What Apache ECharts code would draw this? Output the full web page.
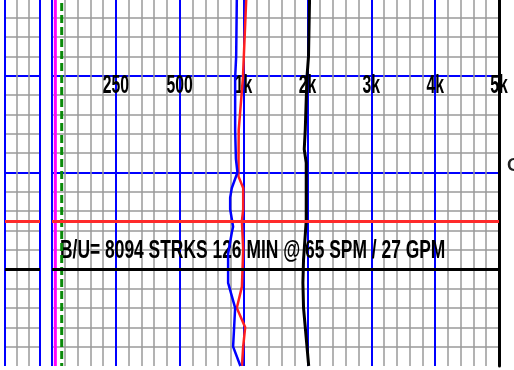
<!DOCTYPE html>
<html>
<head>
<meta charset="utf-8">
<title>Mud log track</title>
<script src="https://cdn.jsdelivr.net/npm/echarts@6.0.0/dist/echarts.min.js"></script>
<style>
  html, body { margin: 0; padding: 0; background: #fff; }
  #chart { width: 514px; height: 370px; }
</style>
</head>
<body>
<div id="chart"></div>
<script>
// scale breakpoints of the main track (0 .. 5k, not linear)
const ticks = [0, 250, 500, 1000, 2000, 3000, 4000, 5000];
const tickLabels = ['', '250', '500', '1k', '2k', '3k', '4k', '5k'];
// depth of the grid line the tick labels hang under
const labelDepth = 50;

// blue curve
const blueDepth = [0, 11, 40, 51, 78, 93, 100, 108, 113, 119, 128, 131, 142, 157, 170, 190, 200];
const blueVal   = [950, 947, 942, 934, 934, 940, 952, 908, 895, 895, 918, 908, 879, 879, 934, 918, 975];
// red curve
const redDepth = [0, 11, 51, 78, 102, 108, 119, 125, 140, 159, 170, 180, 190, 200];
const redVal   = [1057, 1041, 995, 962, 960, 997, 997, 987, 997, 987, 947, 1025, 997, 987];
// black curve
const blackDepth = [0, 11, 40, 51, 78, 88, 95, 125, 145, 157, 170, 200];
const blackVal   = [2040, 2033, 2017, 1992, 1966, 1950, 1981, 1981, 1939, 1929, 1939, 2020];
// magenta and green (dashed) curves near the left edge
const pinkDepth = [0, 100, 200];
const pinkVal   = [13, 13, 13];
const greenDepth = [0, 100, 200];
const greenVal   = [38, 38, 38];

// horizontal markers (depth)
const redMarkDepth = 125;
const blackMarkDepth = 150;

const noteText = 'B/U= 8094 STRKS 126 MIN @ 65 SPM / 27 GPM';

const font = '"Liberation Sans", Arial, sans-serif';

// value -> axis position (piecewise between the breakpoints)
function toAxis(v) {
  for (let i = 0; i < ticks.length - 1; i++) {
    if (v <= ticks[i + 1]) {
      return i + (v - ticks[i]) / (ticks[i + 1] - ticks[i]);
    }
  }
  return ticks.length - 1;
}
function pairs(depths, vals) {
  return depths.map((d, i) => [toAxis(vals[i]), d]);
}

const chart = echarts.init(document.getElementById('chart'));

const grayLine = { color: '#9a9a9a', width: 1.5 };
const blueLine = { color: '#0000ff', width: 2 };

function depthAxis(gridIndex, right) {
  return {
    type: 'value', gridIndex: gridIndex, inverse: true,
    min: 0, max: 200, interval: 50,
    position: right ? 'right' : 'left',
    axisLine: right
      ? { show: true, onZero: false, lineStyle: { color: '#000', width: 3 } }
      : { show: false, onZero: false },
    axisTick: { show: false },
    axisLabel: { show: false },
    splitLine: { show: true, showMaxLine: false, lineStyle: blueLine },
    minorTick: { show: false, splitNumber: 5 },
    minorSplitLine: { show: true, lineStyle: grayLine }
  };
}

function markers() {
  return {
    symbol: 'none', silent: true, label: { show: false },
    data: [
      { yAxis: redMarkDepth, lineStyle: { color: '#ff2a2a', width: 3, type: 'solid' } },
      { yAxis: blackMarkDepth, lineStyle: { color: '#000', width: 3, type: 'solid' } }
    ]
  };
}

const option = {
  animation: false,
  grid: [
    { left: 5, top: -21, width: 35, height: 387, outerBoundsMode: 'none' },
    { left: 52, top: -21, width: 447, height: 387, outerBoundsMode: 'none' }
  ],
  xAxis: [
    {
      type: 'value', gridIndex: 0, min: 0, max: 3, interval: 3,
      axisLine: { show: false, onZero: false }, axisTick: { show: false }, axisLabel: { show: false },
      splitLine: { show: true, lineStyle: blueLine },
      minorTick: { show: false, splitNumber: 3 },
      minorSplitLine: { show: true, lineStyle: grayLine }
    },
    {
      type: 'value', gridIndex: 1, min: 0, max: 7, interval: 1, position: 'top',
      axisLine: { show: false, onZero: false }, axisTick: { show: false },
      axisLabel: { show: false },
      splitLine: { show: true, lineStyle: blueLine },
      minorTick: { show: false, splitNumber: 5 },
      minorSplitLine: { show: true, lineStyle: grayLine }
    }
  ],
  yAxis: [depthAxis(0, false), depthAxis(1, true)],
  series: [
    {
      type: 'line', xAxisIndex: 0, yAxisIndex: 0, data: [], z: 3,
      markLine: markers()
    },
    {
      type: 'line', xAxisIndex: 1, yAxisIndex: 1, data: [], z: 3,
      markLine: markers()
    },
    {
      name: 'pink', type: 'line', xAxisIndex: 1, yAxisIndex: 1, symbol: 'none',
      data: pairs(pinkDepth, pinkVal),
      lineStyle: { color: '#ff00ff', width: 3 }
    },
    {
      name: 'green', type: 'line', xAxisIndex: 1, yAxisIndex: 1, symbol: 'none',
      data: pairs(greenDepth, greenVal),
      lineStyle: { color: '#0a8a0a', width: 3, type: [8, 4] }
    },
    {
      name: 'black', type: 'line', xAxisIndex: 1, yAxisIndex: 1, symbol: 'none', z: 4,
      data: pairs(blackDepth, blackVal),
      lineStyle: { color: '#000', width: 3 }
    },
    {
      name: 'red', type: 'line', xAxisIndex: 1, yAxisIndex: 1, symbol: 'none', z: 4,
      data: pairs(redDepth, redVal),
      lineStyle: { color: '#ff2020', width: 2.5 }
    },
    {
      name: 'blue', type: 'line', xAxisIndex: 1, yAxisIndex: 1, symbol: 'none', z: 4,
      data: pairs(blueDepth, blueVal),
      lineStyle: { color: '#0000ff', width: 2.5 }
    }
  ]
};

chart.setOption(option);

// tick labels: tall condensed bold text placed on the axis ticks
const labelY = chart.convertToPixel({ yAxisIndex: 1 }, labelDepth) + 10;
const graphics = tickLabels.map((t, i) => ({
  type: 'text',
  x: chart.convertToPixel({ xAxisIndex: 1 }, i),
  y: labelY,
  scaleX: 0.63,
  z: 1,
  style: {
    text: t, fill: '#000', font: 'bold 25px ' + font,
    textAlign: 'center', textVerticalAlign: 'middle'
  }
}));
graphics.push({
  type: 'text', x: 60, y: 251, scaleX: 0.67, z: 1,
  style: {
    text: noteText, fill: '#000', font: 'bold 26px ' + font,
    textAlign: 'left', textVerticalAlign: 'middle'
  }
});
graphics.push({
  type: 'text', x: 507, y: 166, z: 1,
  style: { text: 'C', fill: '#222', font: 'bold 18px ' + font, textVerticalAlign: 'middle' }
});
chart.setOption({ graphic: graphics });
</script>
</body>
</html>
